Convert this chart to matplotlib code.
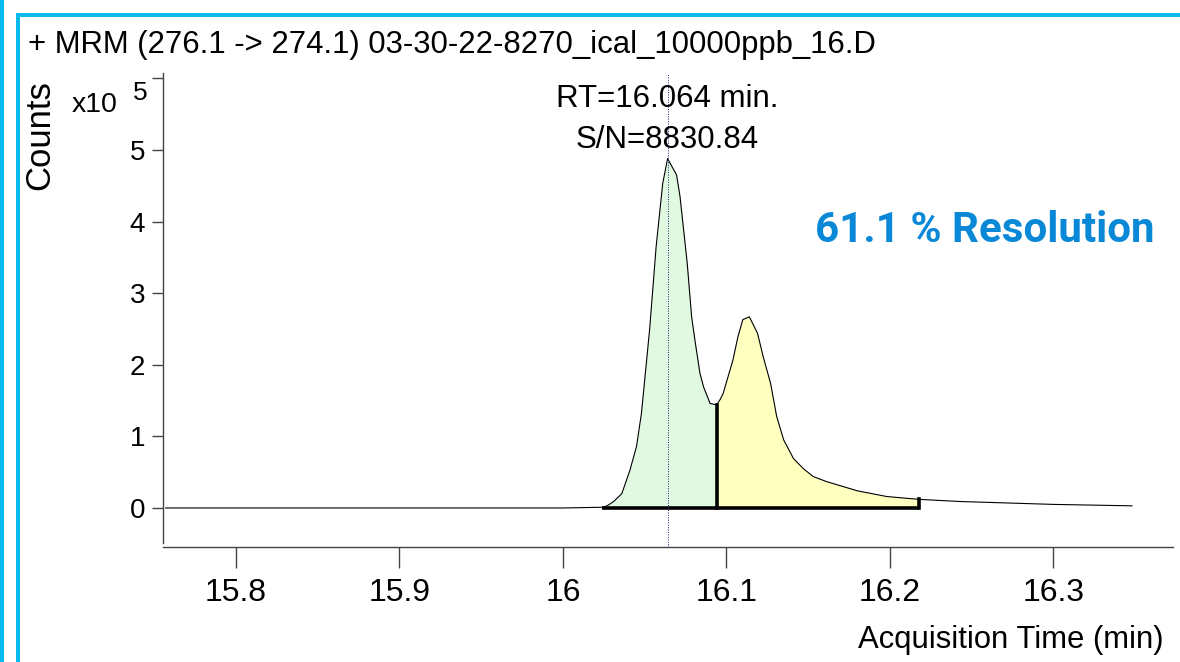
import matplotlib
matplotlib.use("Agg")
import matplotlib.pyplot as plt
import numpy as np
from matplotlib.patches import Rectangle

plt.rcParams['font.family'] = ['Liberation Sans', 'DejaVu Sans']

# chromatogram (counts in units of 1e5)
time_min = [15.757, 16.000, 16.024, 16.027, 16.031, 16.036, 16.041, 16.045, 16.048,
            16.053, 16.057, 16.061, 16.064, 16.0695, 16.0716, 16.076, 16.0787, 16.081,
            16.0838, 16.086, 16.090, 16.094, 16.096, 16.098, 16.104, 16.107, 16.110,
            16.114, 16.119, 16.1225, 16.127, 16.1307, 16.135, 16.141, 16.147, 16.153,
            16.161, 16.180, 16.198, 16.218, 16.243, 16.300, 16.348]
counts_e5 = [0.0, 0.0, 0.01, 0.03, 0.09, 0.20, 0.53, 0.86, 1.32,
             2.49, 3.65, 4.53, 4.88, 4.65, 4.35, 3.42, 2.67, 2.30,
             1.88, 1.69, 1.46, 1.44, 1.51, 1.60, 2.07, 2.39, 2.63,
             2.67, 2.44, 2.11, 1.74, 1.28, 0.95, 0.69, 0.55, 0.44,
             0.37, 0.24, 0.16, 0.12, 0.09, 0.05, 0.03]

peak1_start, split_rt, peak2_end = 16.024, 16.094, 16.218
apex_rt = 16.064
x_ticks = [15.8, 15.9, 16.0, 16.1, 16.2, 16.3]
x_tick_labels = ['15.8', '15.9', '16', '16.1', '16.2', '16.3']
y_ticks = [0, 1, 2, 3, 4, 5, 6]
y_tick_labels = ['0', '1', '2', '3', '4', '5', '']

title = '+ MRM (276.1 -> 274.1) 03-30-22-8270_ical_10000ppb_16.D'
rt_text = 'RT=16.064 min.'
sn_text = 'S/N=8830.84'
resolution_text = '61.1 % Resolution'

W, H = 1180, 662


def fx(px):
    return px / W


def fy(py):
    return 1 - py / H


t = np.array(time_min)
c = np.array(counts_e5)

fig = plt.figure(figsize=(W / 100, H / 100), dpi=100)
ax = fig.add_axes([fx(163), fy(547), fx(1173) - fx(163), fy(73) - fy(547)])
ax.set_xlim(15.7554, 16.3731)
ax.set_ylim(-0.545, 6.075)

# integrated areas
m1 = (t >= peak1_start) & (t <= split_rt)
m2 = (t >= split_rt) & (t <= peak2_end)
ax.fill_between(t[m1], 0, c[m1], color='#e0f9e0', lw=0)
ax.fill_between(t[m2], 0, c[m2], color='#ffffc0', lw=0)

ax.plot(t, c, color='black', lw=0.8)

# baseline and drop lines
h_split = c[t == split_rt][0]
h_end = c[t == peak2_end][0]
ax.plot([peak1_start, peak2_end], [0, 0], color='black', lw=2.6, solid_capstyle='butt')
ax.plot([split_rt, split_rt], [0, h_split], color='black', lw=2.6)
ax.plot([peak2_end, peak2_end], [0, h_end], color='black', lw=2.6)

ax.axvline(apex_rt, color='#1a1a80', lw=0.7, ls=(0, (1, 1.5)))

for s in ['top', 'right']:
    ax.spines[s].set_visible(False)
ax.spines['left'].set_bounds(-0.49, 6.075)
for s in ['left', 'bottom']:
    ax.spines[s].set_color('#444444')
    ax.spines[s].set_linewidth(1)

ax.set_xticks(x_ticks)
ax.set_xticklabels(x_tick_labels, fontsize=23)
ax.set_yticks(y_ticks)
ax.set_yticklabels(y_tick_labels, fontsize=20)
ax.tick_params(axis='x', length=15, width=1, color='#444444', pad=7)
ax.tick_params(axis='y', length=8, width=1, color='#444444', pad=5)

# texts
fig.text(fx(28), fy(53), title, fontsize=22.4, va='baseline', ha='left')
fig.text(fx(667), fy(107), rt_text, fontsize=22.5, va='baseline', ha='center')
fig.text(fx(667), fy(148), sn_text, fontsize=22.5, va='baseline', ha='center')
fig.text(fx(815), fy(242), resolution_text, family=['Roboto', 'DejaVu Sans'],
         fontweight='bold', fontsize=30.3, color='#0a88d8', va='baseline', ha='left')
fig.text(fx(72), fy(112), 'x10', fontsize=20.5, va='baseline', ha='left')
fig.text(fx(133), fy(100), '5', fontsize=19, va='baseline', ha='left')
fig.text(fx(40), fy(135), 'Counts', fontsize=25, rotation=90, va='center', ha='center')
fig.text(fx(1163), fy(648), 'Acquisition Time (min)', fontsize=22.3, va='baseline', ha='right')

# cyan frame
frame_col = '#08bbeb'
fig.add_artist(Rectangle((0, 0), fx(3.5), 1, transform=fig.transFigure, color=frame_col, lw=0))
fig.add_artist(Rectangle((fx(15.5), 0), fx(4), fy(13), transform=fig.transFigure, color=frame_col, lw=0))
fig.add_artist(Rectangle((fx(15.5), fy(17)), 1, fy(13) - fy(17), transform=fig.transFigure,
                         color=frame_col, lw=0))

fig.savefig('out.png', dpi=100)
